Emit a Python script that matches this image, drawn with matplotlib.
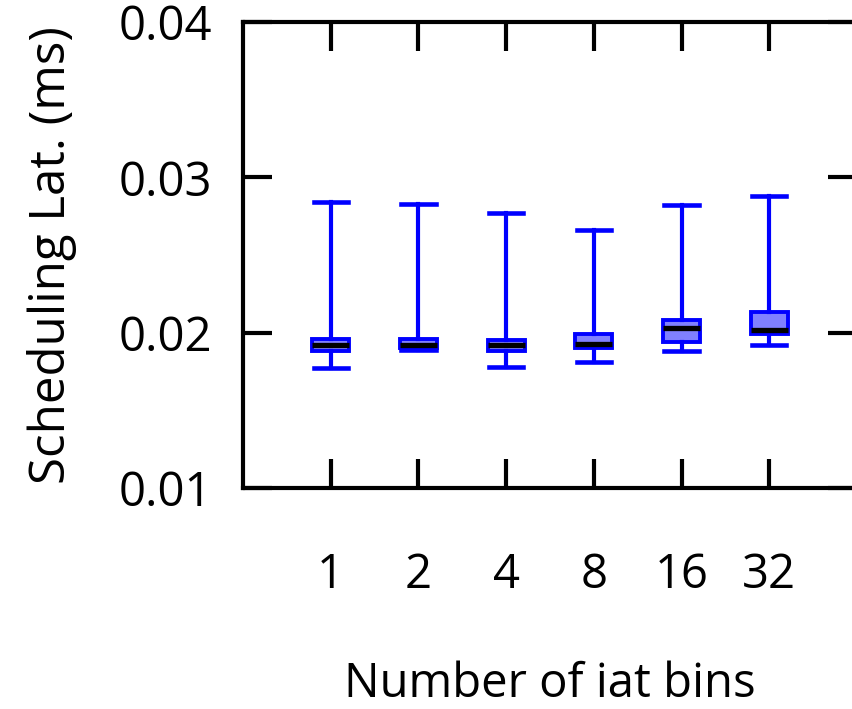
import numpy as np
import matplotlib.pyplot as plt

plt.rcParams['font.family'] = ['Open Sans', 'DejaVu Sans']

labels = ['1', '2', '4', '8', '16', '32']
whislo = [0.0177, 0.0189, 0.0178, 0.0181, 0.0188, 0.0192]
q1 = [0.0188, 0.0190, 0.0188, 0.0190, 0.0194, 0.0199]
med = [0.0192, 0.0192, 0.0192, 0.0193, 0.0203, 0.0202]
q3 = [0.0196, 0.0196, 0.0195, 0.0199, 0.0208, 0.0213]
whishi = [0.0284, 0.0283, 0.0277, 0.0266, 0.0282, 0.0288]

stats = []
for i in range(len(labels)):
    stats.append(dict(label=labels[i], whislo=whislo[i], q1=q1[i], med=med[i],
                      q3=q3[i], whishi=whishi[i], fliers=[]))

fig = plt.figure(figsize=(8.52, 7.09), dpi=100)
ax = fig.add_axes([243/852, 1-488/709, (857-243)/852, (488-22)/709])

pos = np.arange(1, len(labels)+1)
ax.bxp(stats, positions=pos, widths=0.42, capwidths=0.39, patch_artist=True,
       showfliers=False,
       boxprops=dict(facecolor='#8080ff', edgecolor='#0000ff', linewidth=2.8),
       whiskerprops=dict(color='#0000ff', linewidth=3),
       capprops=dict(color='#0000ff', linewidth=3.3),
       medianprops=dict(color='black', linewidth=3.8, solid_capstyle='butt'))

ax.set_xlim(0, len(labels)+1)
ax.set_ylim(0.01, 0.04)
ax.set_xticks(pos)
ax.set_xticklabels(labels)
ax.set_yticks([0.01, 0.02, 0.03, 0.04])
ax.set_yticklabels(['0.01', '0.02', '0.03', '0.04'])

for s in ax.spines.values():
    s.set_linewidth(3)
ax.tick_params(direction='in', length=21, width=3, top=True, right=True,
               labelsize=34)
ax.tick_params(axis='x', pad=46)
ax.tick_params(axis='y', pad=22)

ax.set_xlabel('Number of iat bins', fontsize=34, labelpad=44)
ax.set_ylabel('Scheduling Lat. (ms)', fontsize=35.5, labelpad=30)

fig.savefig('out.png', dpi=100)
